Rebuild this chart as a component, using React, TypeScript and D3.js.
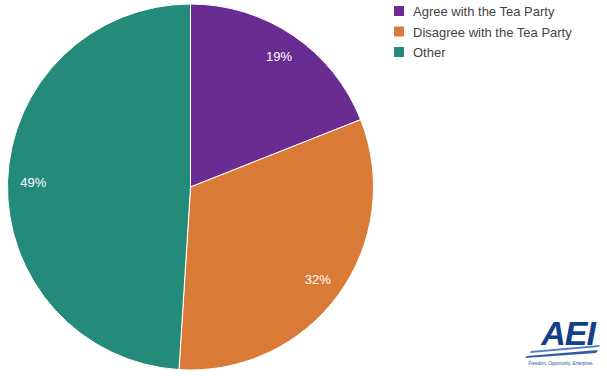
import React from "react";
import * as d3 from "d3";

const categories = ["Agree with the Tea Party", "Disagree with the Tea Party", "Other"];
const values = [19, 32, 49];
const labels = ["19%", "32%", "49%"];
const colors = ["#6a2c91", "#d97b36", "#248a79"];

export default function App() {
  const W = 607, H = 376;
  const cx = 190.5, cy = 187, r = 183;
  const pie = d3.pie<number>().sort(null).value((d) => d)(values);
  const arc = d3.arc<d3.PieArcDatum<number>>().innerRadius(0).outerRadius(r);
  const labelArc = d3.arc<d3.PieArcDatum<number>>().innerRadius(r * 0.86).outerRadius(r * 0.86);
  return (
    <svg width={W} height={H} style={{ position: "absolute", left: 0, top: 0, background: "#fff" }}
      fontFamily="'Liberation Sans', Arial, sans-serif">
      <g transform={`translate(${cx},${cy})`}>
        {pie.map((p, i) => (
          <path key={i} d={arc(p) || ""} fill={colors[i]} stroke="#fff" strokeWidth={1} />
        ))}
        {pie.map((p, i) => {
          const [x, y] = labelArc.centroid(p);
          return (
            <text key={i} x={x} y={y} dy="0.35em" textAnchor="middle" fill="#fff" fontSize={13}>
              {labels[i]}
            </text>
          );
        })}
      </g>
      <g transform="translate(394,6)">
        {categories.map((c, i) => (
          <g key={i} transform={`translate(0,${i * 20.5})`}>
            <rect x={0} y={0} width={10} height={10} fill={colors[i]} />
            <text x={19} y={10} fontSize={13} fill="#444">{c}</text>
          </g>
        ))}
      </g>
      <g>
        <path d="M527,356 L598,350 L596,353 L525,358 Z" fill="#1a4a9a" opacity={0.9} />
        <path d="M531,351 L600,345 L599,347 L530,353 Z" fill="#2a5cb0" opacity={0.8} />
        <text x={568} y={345} textAnchor="middle" fontSize={34} fontWeight="bold" fontStyle="italic"
          fill="#123f8c" letterSpacing={-1}>AEI</text>
        <text x={561} y={365} textAnchor="middle" fontSize={4.5} fill="#2a4f9a" textLength={65}
          lengthAdjust="spacingAndGlyphs">Freedom. Opportunity. Enterprise.</text>
      </g>
    </svg>
  );
}
